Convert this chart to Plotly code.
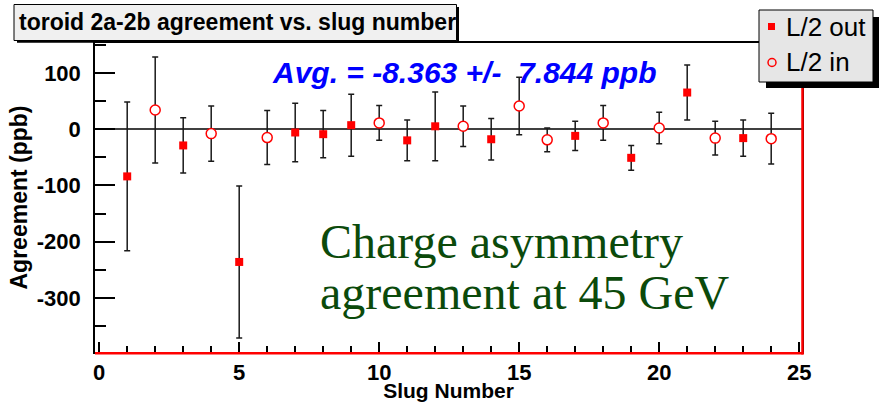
import numpy as np
import plotly.graph_objects as go

# ---- data: charge asymmetry agreement (toroid 2a - 2b) per slug ----
slug_out = [1, 3, 5, 7, 8, 9, 11, 12, 14, 17, 19, 21, 23]
agree_out = [-84, -29, -236, -6, -9, 7, -20, 5, -18, -12, -51, 65, -16]
err_out = [132, 49, 135, 52, 42, 55, 36, 61, 37, 26, 22, 49, 32]

slug_in = [2, 4, 6, 10, 13, 15, 16, 18, 20, 22, 24]
agree_in = [34, -8, -15, 11, 5, 41, -19, 11, 2, -16, -17]
err_in = [94, 49, 48, 31, 36, 51, 21, 31, 28, 30, 45]

x_ticks = [0, 5, 10, 15, 20, 25]
x_tick_text = ["0", "5", "10", "15", "20", "25"]
y_ticks = [-300, -200, -100, 0, 100]
y_tick_text = ["-300", "-200", "-100", "0", "100"]

avg_text = "Avg. = -8.363 +/-\u00a0 7.844 ppb"
note_lines = ["Charge asymmetry", "agreement at 45 GeV"]

# ---- frame geometry (pixels) ----
WIDTH, HEIGHT = 880, 402
L, R, T, B = 95, 78, 43, 50
W = WIDTH - L - R
H = HEIGHT - T - B


def fx(px):
    return (px - L) / W


def fy(py):
    return 1 - (py - T) / H


RED = "#ff0000"
BAR = "#1a1a1a"

fig = go.Figure()

fig.add_trace(go.Scatter(
    x=slug_out, y=agree_out, mode="markers", name="L/2 out",
    marker=dict(symbol="square", size=8, color=RED, line=dict(width=0)),
    error_y=dict(type="data", array=err_out, color=BAR, thickness=1.5, width=3),
    showlegend=False, cliponaxis=False,
))
fig.add_trace(go.Scatter(
    x=slug_in, y=agree_in, mode="markers", name="L/2 in",
    marker=dict(symbol="circle", size=10, color="white", line=dict(width=1.5, color=RED)),
    error_y=dict(type="data", array=err_in, color=BAR, thickness=1.5, width=3),
    showlegend=False, cliponaxis=False,
))

shapes = [
    # zero line
    dict(type="line", xref="paper", yref="y", x0=0, x1=1, y0=0, y1=0,
         line=dict(color="black", width=1.5), layer="below"),
    # red frame edges (bottom, right)
    dict(type="line", xref="paper", yref="paper", x0=fx(95), x1=fx(803.5),
         y0=fy(353.3), y1=fy(353.3), line=dict(color=RED, width=2.5)),
    dict(type="line", xref="paper", yref="paper", x0=fx(802.5), x1=fx(802.5),
         y0=fy(354.5), y1=fy(80), line=dict(color=RED, width=2.5)),
    # title box with shadow
    dict(type="rect", xref="paper", yref="paper", x0=fx(17), x1=fx(459), y0=fy(42.7), y1=fy(7),
         fillcolor="black", line=dict(width=0)),
    dict(type="rect", xref="paper", yref="paper", x0=fx(14), x1=fx(456.5), y0=fy(40.5), y1=fy(4.5),
         fillcolor="#f0f0f0", line=dict(color="black", width=1)),
    # legend box with shadow
    dict(type="rect", xref="paper", yref="paper", x0=fx(766), x1=fx(879), y0=fy(88), y1=fy(17),
         fillcolor="black", line=dict(width=0)),
    dict(type="rect", xref="paper", yref="paper", x0=fx(759), x1=fx(873), y0=fy(82), y1=fy(10),
         fillcolor="#e6e6e6", line=dict(color="black", width=1)),
    # legend symbols
    dict(type="rect", xref="paper", yref="paper", x0=fx(768), x1=fx(775), y0=fy(30), y1=fy(23),
         fillcolor=RED, line=dict(width=0)),
    dict(type="circle", xref="paper", yref="paper", x0=fx(768), x1=fx(776), y0=fy(66.5), y1=fy(58.5),
         fillcolor="rgba(0,0,0,0)", line=dict(color=RED, width=1.5)),
]

sans = "Liberation Sans, Arial, sans-serif"
serif = "Liberation Serif, Times New Roman, serif"

annotations = [
    dict(text="toroid 2a-2b agreement vs. slug number", xref="paper", yref="paper",
         x=fx(17), y=fy(22), xanchor="left", yanchor="middle", showarrow=False,
         font=dict(family=sans, size=23, color="black", weight="bold")),
    dict(text="L/2 out", xref="paper", yref="paper", x=fx(784), y=fy(27),
         xanchor="left", yanchor="middle", showarrow=False,
         font=dict(family=sans, size=26, color="black")),
    dict(text="L/2 in", xref="paper", yref="paper", x=fx(784), y=fy(62),
         xanchor="left", yanchor="middle", showarrow=False,
         font=dict(family=sans, size=26, color="black")),
    dict(text=avg_text, xref="paper", yref="paper", x=fx(270), y=fy(72),
         xanchor="left", yanchor="middle", showarrow=False,
         font=dict(family=sans, size=30, color="#0000ff", weight="bold", style="italic")),
    dict(text=note_lines[0], xref="paper", yref="paper", x=fx(318), y=fy(241),
         xanchor="left", yanchor="middle", showarrow=False,
         font=dict(family=serif, size=48, color="#0b4a0b")),
    dict(text=note_lines[1], xref="paper", yref="paper", x=fx(318), y=fy(292),
         xanchor="left", yanchor="middle", showarrow=False,
         font=dict(family=serif, size=48, color="#0b4a0b")),
]

tick_font = dict(family=sans, size=22, color="black", weight="bold")
x_title_font = dict(family=sans, size=21, color="black", weight="bold")
y_title_font = dict(family=sans, size=23, color="black", weight="bold")

fig.update_layout(
    width=WIDTH, height=HEIGHT,
    margin=dict(l=L, r=R, t=T, b=B, autoexpand=False),
    paper_bgcolor="white", plot_bgcolor="white",
    shapes=shapes, annotations=annotations, showlegend=False,
    xaxis=dict(
        range=[-0.15, 25.1], tickmode="array", tickvals=x_ticks, ticktext=x_tick_text,
        ticks="inside", ticklen=10, tickwidth=1.5, tickcolor="black",
        minor=dict(tickmode="array", tickvals=list(range(0, 26)), ticks="inside",
                   ticklen=6, tickwidth=1.5, tickcolor="black"),
        showline=True, linecolor="black", linewidth=1.5, mirror=True,
        showgrid=False, zeroline=False, tickfont=tick_font, ticklabelstandoff=0,
        title=dict(text="Slug Number", font=x_title_font, standoff=3), automargin=False,
    ),
    yaxis=dict(
        range=[-396, 153], tickmode="array", tickvals=y_ticks, ticktext=y_tick_text,
        ticks="inside", ticklen=20, tickwidth=1.5, tickcolor="black",
        minor=dict(tickmode="array", tickvals=list(range(-350, 151, 50)), ticks="inside",
                   ticklen=11, tickwidth=1.5, tickcolor="black"),
        showline=True, linecolor="black", linewidth=1.5, mirror=True,
        showgrid=False, zeroline=False, tickfont=tick_font, ticklabelstandoff=8,
        title=dict(text="Agreement (ppb)", font=y_title_font, standoff=3), automargin=False,
    ),
)

fig.write_html("out.html")
